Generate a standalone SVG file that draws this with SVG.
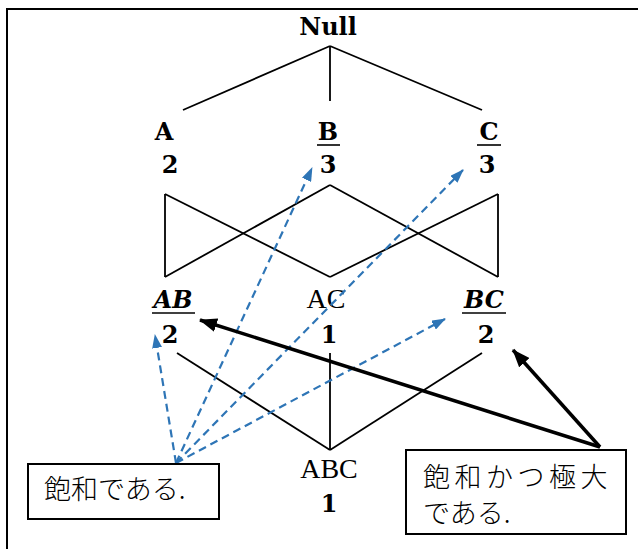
<svg xmlns="http://www.w3.org/2000/svg" width="638" height="549" viewBox="0 0 638 549">
<defs>
<marker id="bh" markerWidth="14" markerHeight="10" refX="13" refY="5" orient="auto" markerUnits="userSpaceOnUse"><path d="M0,0 L14,5 L0,10 Z" fill="#2E75B6"/></marker>
<marker id="kh" markerWidth="18" markerHeight="14" refX="17" refY="7" orient="auto" markerUnits="userSpaceOnUse"><path d="M0,0 L18,7 L0,14 Z" fill="#000"/></marker>
</defs>
<style>
.b{font-family:"DejaVu Serif","Liberation Serif",serif;font-weight:bold;font-size:24px;text-anchor:middle;fill:#000}
.bi{font-family:"DejaVu Serif","Liberation Serif",serif;font-weight:bold;font-style:italic;font-size:24px;text-anchor:middle;fill:#000}
.r{font-family:"Liberation Serif",serif;font-size:28px;text-anchor:middle;fill:#000}
.j{font-family:"Noto Sans CJK JP",sans-serif;font-size:27px;font-weight:300;fill:#000}
.ln{stroke:#000;stroke-width:1.8;fill:none}
.ul{stroke:#000;stroke-width:1.6}
.bl{stroke:#2E75B6;stroke-width:2.2;stroke-dasharray:8,5;fill:none;marker-end:url(#bh)}
.kl{stroke:#000;stroke-width:3.5;fill:none;marker-end:url(#kh)}
.box{fill:#fff;stroke:#000;stroke-width:2}
</style>
<rect x="7" y="9" width="700" height="600" fill="none" stroke="#000" stroke-width="2"/>
<g id="lattice-edges">
<line class="ln" x1="330" y1="46" x2="183" y2="110"/>
<line class="ln" x1="330" y1="46" x2="330" y2="101"/>
<line class="ln" x1="330" y1="46" x2="482" y2="110"/>
<line class="ln" x1="165" y1="194" x2="165" y2="277"/>
<line class="ln" x1="498" y1="194" x2="498" y2="277"/>
<line class="ln" x1="165" y1="194" x2="330" y2="277"/>
<line class="ln" x1="330" y1="277" x2="498" y2="194"/>
<line class="ln" x1="165" y1="277" x2="330" y2="185"/>
<line class="ln" x1="330" y1="185" x2="498" y2="277"/>
<line class="ln" x1="177" y1="353" x2="330" y2="450"/>
<line class="ln" x1="330" y1="353" x2="330" y2="450"/>
<line class="ln" x1="482" y1="353" x2="330" y2="450"/>
</g>
<g id="node-null"><text class="b" x="328" y="35">Null</text></g>
<g id="node-a"><text class="b" x="164" y="140">A</text><text class="b" x="170" y="173">2</text></g>
<g id="node-b"><text class="b" x="328" y="140">B</text><line class="ul" x1="317" y1="145" x2="340" y2="145"/><text class="b" x="328" y="173">3</text></g>
<g id="node-c"><text class="b" x="489" y="140">C</text><line class="ul" x1="477" y1="145" x2="501" y2="145"/><text class="b" x="487" y="173">3</text></g>
<g id="node-ab"><text class="bi" x="173" y="308">AB</text><line class="ul" x1="152" y1="313" x2="195" y2="313"/><text class="b" x="170" y="343">2</text></g>
<g id="node-ac"><text class="r" x="326" y="308">AC</text><text class="b" x="329" y="343">1</text></g>
<g id="node-bc"><text class="bi" x="484" y="308">BC</text><line class="ul" x1="462" y1="313" x2="506" y2="313"/><text class="b" x="486" y="343">2</text></g>
<g id="node-abc"><text class="r" x="329" y="478">ABC</text><text class="b" x="329" y="512">1</text></g>
<g id="connectors">
<line class="bl" x1="176" y1="463" x2="155" y2="335"/>
<line class="bl" x1="176" y1="463" x2="312" y2="168"/>
<line class="bl" x1="176" y1="463" x2="463" y2="170"/>
<line class="bl" x1="176" y1="463" x2="445" y2="319"/>
<line class="kl" x1="600" y1="447" x2="200" y2="320"/>
<line class="kl" x1="600" y1="447" x2="513" y2="350"/>
</g>
<g id="box-saturated"><rect class="box" x="28" y="464" width="191" height="55"/><text class="j" x="44" y="499">飽和である.</text></g>
<g id="box-maximal"><rect class="box" x="406" y="450" width="220" height="84"/><text class="j" x="423" y="487" letter-spacing="4.5">飽和かつ極大</text><text class="j" x="423" y="523">である.</text></g>
</svg>
